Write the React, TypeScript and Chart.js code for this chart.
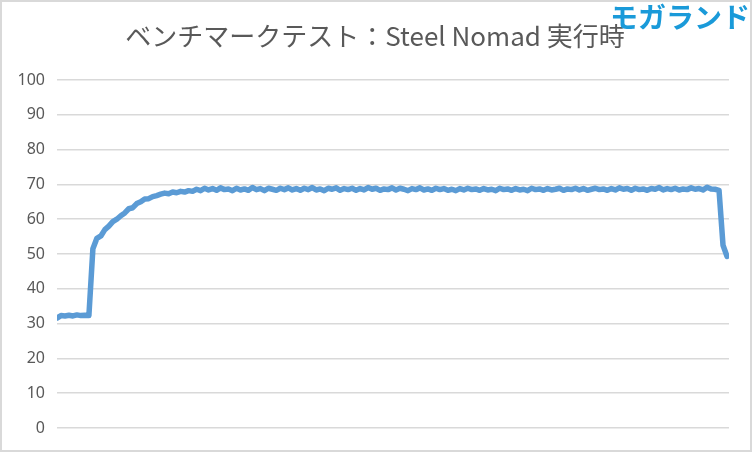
import React, { useEffect, useRef } from "react";
import { Chart, registerables } from "chart.js";

Chart.register(...registerables);

const TITLE = "ベンチマークテスト：Steel Nomad 実行時";
const WATERMARK = "モガランド";
const Y_TICKS = [0, 10, 20, 30, 40, 50, 60, 70, 80, 90, 100];

// idle before start
const idleValues = [31.6, 32.3, 32.2, 32.4, 32.2, 32.5, 32.3, 32.4, 32.3];
// warm-up after start
const riseValues = [
  51.5, 54.5, 55.2, 57.0, 58.0, 59.3, 60.0, 61.0, 61.8, 63.0, 63.3, 64.5, 65.0,
  65.8, 65.9, 66.5, 66.8, 67.2, 67.5, 67.3, 67.8, 67.6, 68.0, 67.8, 68.2, 68.0,
];
// steady load
const plateauValues = [
  68.6, 68.2, 68.9, 68.4, 68.8, 68.3, 69.0, 68.5, 68.7, 68.2,
  68.9, 68.4, 68.7, 68.3, 69.1, 68.5, 68.8, 68.2, 68.9, 68.6,
  68.3, 68.9, 68.5, 69.0, 68.4, 68.8, 68.3, 68.9, 68.5, 69.1,
  68.4, 68.7, 68.2, 68.9, 68.6, 69.0, 68.3, 68.8, 68.5, 68.9,
  68.3, 68.8, 68.4, 69.1, 68.6, 68.9, 68.3, 68.7, 68.5, 69.0,
  68.4, 68.9, 68.6, 68.2, 68.8, 68.5, 69.0, 68.4, 68.7, 68.3,
  68.9, 68.5, 68.8, 68.3, 68.6, 68.2, 68.8, 68.4, 68.9, 68.5,
  68.7, 68.3, 68.8, 68.4, 68.6, 68.2, 68.9, 68.5, 68.7, 68.3,
  68.8, 68.4, 68.6, 68.2, 68.9, 68.5, 68.7, 68.3, 68.8, 68.4,
  68.6, 68.9, 68.3, 68.7, 68.5, 68.9, 68.4, 68.8, 68.3, 68.6,
  68.9, 68.5, 68.7, 68.3, 68.8, 68.4, 69.0, 68.6, 68.8, 68.3,
  68.9, 68.5, 68.7, 68.3, 68.8, 68.6, 69.1, 68.4, 68.8, 68.5,
  68.9, 68.4, 68.7, 68.5, 69.0, 68.6, 68.8, 68.4, 69.2, 68.7,
];
// end of run
const endValues = [68.6, 68.3, 52.5, 49.3];

const temperatures = [...idleValues, ...riseValues, ...plateauValues, ...endValues];

const textPlugin = {
  id: "textPlugin",
  afterDraw(chart: any) {
    const ctx = chart.ctx;
    ctx.save();
    ctx.fillStyle = "#595959";
    ctx.font = '26px "Noto Sans CJK JP", "Noto Sans", sans-serif';
    ctx.textAlign = "center";
    ctx.textBaseline = "middle";
    ctx.fillText(TITLE, 375, 36);
    ctx.fillStyle = "#1a9ad9";
    ctx.font = 'bold 28px "Noto Sans CJK JP", sans-serif';
    ctx.textAlign = "left";
    ctx.fillText(WATERMARK, 610, 17);
    ctx.restore();
  },
};

export default function App() {
  const ref = useRef<HTMLCanvasElement | null>(null);
  useEffect(() => {
    document.body.style.margin = "0";
    const points = temperatures.map((v, i) => ({ x: i, y: v }));
    const chart = new Chart(ref.current as HTMLCanvasElement, {
      type: "line",
      data: {
        datasets: [
          {
            data: points,
            borderColor: "#5b9bd5",
            borderWidth: 5.5,
            pointRadius: 0,
            tension: 0,
            borderJoinStyle: "round",
            borderCapStyle: "round",
          },
        ],
      },
      options: {
        animation: false,
        responsive: false,
        maintainAspectRatio: false,
        layout: { padding: { top: 80, bottom: 24, left: 0, right: 23 } },
        plugins: { legend: { display: false }, tooltip: { enabled: false }, title: { display: false } },
        scales: {
          x: {
            type: "linear",
            display: false,
            min: 0,
            max: temperatures.length - 0.5,
          },
          y: {
            min: 0,
            max: 100,
            afterFit: (s: any) => {
              s.width = 57;
            },
            afterBuildTicks: (s: any) => {
              s.ticks = Y_TICKS.map((v) => ({ value: v }));
            },
            border: { display: false },
            grid: { color: "#d9d9d9", lineWidth: 1.6, drawTicks: false },
            ticks: {
              padding: 12,
              color: "#595959",
              font: { family: '"Noto Sans", sans-serif', size: 16 },
            },
          },
        },
      },
      plugins: [textPlugin],
    });
    return () => chart.destroy();
  }, []);
  return (
    <div style={{ position: "relative", width: 752, height: 452, background: "#fff" }}>
      <canvas ref={ref} width={752} height={452} style={{ position: "absolute", left: 0, top: 0 }} />
      <div
        style={{
          position: "absolute",
          left: 0,
          top: 0,
          width: 752,
          height: 452,
          boxSizing: "border-box",
          border: "2px solid #d9d9d9",
          pointerEvents: "none",
        }}
      />
    </div>
  );
}
